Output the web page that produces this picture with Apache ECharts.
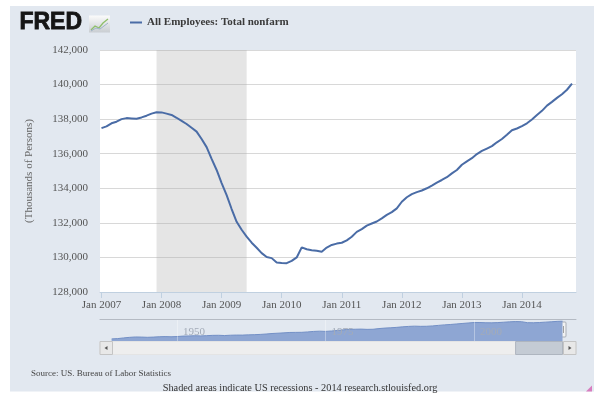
<!DOCTYPE html>
<html>
<head>
<meta charset="utf-8">
<script src="https://cdn.jsdelivr.net/npm/echarts@6/dist/echarts.min.js"></script>
<style>
html,body{margin:0;padding:0;background:#fff;}
#chart{width:600px;height:398px;}
</style>
</head>
<body>
<div id="chart"></div>
<script>
// ---- Data ----
const startYear = 2007; // month index 0 = Jan 2007
const seriesName = 'All Employees: Total nonfarm';
const employees = [
  137480,137580,137760,137850,138000,138060,138040,138020,138100,138200,138320,138400,
  138390,138320,138240,138080,137900,137720,137500,137280,136850,136380,135700,135060,
  134300,133600,132800,132060,131600,131200,130850,130560,130250,130020,129960,129700,
  129680,129670,129800,130000,130580,130470,130420,130380,130330,130570,130720,130800,
  130850,130990,131200,131480,131640,131840,131960,132080,132260,132460,132620,132840,
  133220,133480,133660,133780,133870,134000,134160,134330,134480,134640,134860,135060,
  135360,135560,135740,135980,136160,136300,136440,136660,136850,137100,137360,137460,
  137600,137760,137980,138240,138480,138780,139000,139230,139440,139700,140050
];
const xTickMonths = [0,12,24,36,48,60,72,84];
const xTickLabels = ['Jan 2007','Jan 2008','Jan 2009','Jan 2010','Jan 2011','Jan 2012','Jan 2013','Jan 2014'];
const recessions = [[11, 29]]; // Dec 2007 – Jun 2009 (month indices)
const yTicks = [128000,130000,132000,134000,136000,138000,140000,142000];

// navigator (full history, yearly)
const navYears = [1939,1940,1941,1942,1943,1944,1945,1946,1947,1948,1949,1950,1951,1952,1953,1954,1955,1956,1957,1958,1959,
  1960,1961,1962,1963,1964,1965,1966,1967,1968,1969,1970,1971,1972,1973,1974,1975,1976,1977,1978,1979,
  1980,1981,1982,1983,1984,1985,1986,1987,1988,1989,1990,1991,1992,1993,1994,1995,1996,1997,1998,1999,
  2000,2001,2002,2003,2004,2005,2006,2007,2008,2009,2010,2011,2012,2013,2014,2014.9];
const navValues = [30618,32376,36554,40125,42452,41883,40394,41652,43857,44866,43754,45197,47819,48793,50202,49001,50674,52408,52894,51363,53313,
  54234,54042,55547,56653,58283,60763,63901,65803,67897,70384,70880,71211,73675,76790,78265,76945,79382,82471,86697,89823,
  90406,91152,89544,90152,94408,97387,99344,101958,105210,107884,109403,108249,108601,110713,114163,117191,119608,122690,125865,128916,
  131720,131826,130341,129999,131435,133703,136086,137598,136790,130807,130313,131842,134102,136364,138940,140050];
const navLabelYears = [1950,1975,2000];
const navRange = [2007, 2014.9];

// ---- Build ----
const serif = "'Liberation Serif','Times New Roman',serif";
const mainData = employees.map((v,i)=>[i,v]);
const navData = navYears.map((y,i)=>[y, navValues[i]]);

const chart = echarts.init(document.getElementById('chart'), null, {renderer:'canvas'});
chart.setOption({
  animation:false,
  backgroundColor:'#ffffff',
  textStyle:{fontFamily:serif},
  title:[
    {text:'Source: US. Bureau of Labor Statistics', left:26, top:364,
     textStyle:{fontFamily:serif, fontSize:9, fontWeight:'normal', color:'#444'}},
    {text:'Shaded areas indicate US recessions - 2014 research.stlouisfed.org', left:'center', top:378,
     textStyle:{fontFamily:serif, fontSize:10.3, fontWeight:'normal', color:'#333'}}
  ],
  legend:{
    left:130, top:17, padding:0, icon:'rect', itemWidth:12, itemHeight:2,
    data:[seriesName],
    textStyle:{fontFamily:serif, fontSize:11, fontWeight:'bold', color:'#3a3a3a'}
  },
  grid:[
    {left:100, right:24, top:50, height:242, show:true, backgroundColor:'#ffffff', borderWidth:0},
    {left:100, right:24, top:319.5, height:22, show:false}
  ],
  xAxis:[
    {gridIndex:0, type:'value', min:-0.3, max:94.8,
     axisLine:{show:true, lineStyle:{color:'#C0D0E0'}},
     axisTick:{show:true, length:6, customValues:xTickMonths, lineStyle:{color:'#C0D0E0'}},
     axisLabel:{customValues:xTickMonths, margin:8, fontFamily:serif, fontSize:11, color:'#555',
       formatter:(v)=>{const k=xTickMonths.indexOf(Math.round(v)); return k>=0?xTickLabels[k]:'';}},
     splitLine:{show:false}},
    {gridIndex:1, type:'value', min:1937.04, max:2017.17, position:'top', z:5,
     axisLine:{show:true, lineStyle:{color:'#b4bac3'}},
     axisTick:{show:false},
     axisLabel:{customValues:navLabelYears, inside:true, margin:7, fontFamily:serif, fontSize:11, color:'#a3abb8',
       align:'left', padding:[0,0,0,6], formatter:(v)=>String(v)},
     splitLine:{show:false}}
  ],
  yAxis:[
    {gridIndex:0, type:'value', min:128000, max:142000, interval:2000,
     name:'(Thousands of Persons)', nameLocation:'middle', nameGap:65,
     nameTextStyle:{fontFamily:serif, fontSize:11, color:'#666'},
     axisLine:{show:false}, axisTick:{show:false},
     axisLabel:{margin:12, fontFamily:serif, fontSize:11, color:'#555',
       formatter:(v)=>v.toLocaleString('en-US')},
     splitLine:{show:true, lineStyle:{color:'#d8d8d8', width:1}}},
    {gridIndex:1, type:'value', min:14500, max:150500, show:false, splitLine:{show:false}}
  ],
  series:[
    {name:seriesName, type:'line', xAxisIndex:0, yAxisIndex:0, data:mainData,
     showSymbol:false, symbol:'none', smooth:false,
     lineStyle:{color:'#4a6ca6', width:2}, itemStyle:{color:'#4a6ca6'},
     markArea:{silent:true, itemStyle:{color:'rgba(170,170,170,0.3)'},
       data:recessions.map(r=>[{xAxis:r[0]},{xAxis:r[1]}])}},
    {name:'nav', type:'line', xAxisIndex:1, yAxisIndex:1, data:navData,
     showSymbol:false, symbol:'none',
     lineStyle:{color:'#7390c6', width:1}, areaStyle:{color:'#8ea6d3', opacity:1},
     markLine:{silent:true, symbol:'none', label:{show:false},
       lineStyle:{color:'rgba(255,255,255,0.35)', type:'solid', width:1},
       data:navLabelYears.map(y=>({xAxis:y}))}}
  ]
});

// decorations positioned from the scales
const xa = chart.convertToPixel({xAxisIndex:1}, navRange[0]);
const xb = chart.convertToPixel({xAxisIndex:1}, navRange[1]);
const navL = chart.convertToPixel({xAxisIndex:1}, 1937.04);
const navR = chart.convertToPixel({xAxisIndex:1}, 2017.17);
const sbTop = 341.5, sbH = 13;
function handle(x){
  return {type:'group', children:[
    {type:'rect', shape:{x:x-3.5, y:322, width:7, height:15, r:1}, style:{fill:'#f2f2f2', stroke:'#a9aeb6', lineWidth:1}},
    {type:'line', shape:{x1:x-1, y1:326, x2:x-1, y2:333}, style:{stroke:'#a0a0a0', lineWidth:1}},
    {type:'line', shape:{x1:x+1, y1:326, x2:x+1, y2:333}, style:{stroke:'#a0a0a0', lineWidth:1}}
  ]};
}
chart.setOption({graphic:{elements:[
  {type:'rect', z:-100, shape:{x:10, y:6, width:584, height:385.5}, style:{fill:'#e2e8f0'}},
  // FRED logo
  {type:'text', z:10, left:19, top:11, style:{text:'FRED', font:'bold 23px "Liberation Sans", Arial, sans-serif', fill:'#151515', stroke:'#151515', lineWidth:0.8}},
  {type:'group', z:10, children:[
    {type:'rect', shape:{x:89, y:15.5, width:21, height:17}, style:{fill:new echarts.graphic.LinearGradient(0,0,0,1,[{offset:0,color:'#fbfbfb'},{offset:1,color:'#c9cdd2'}])}},
    {type:'polyline', shape:{points:[[91,30],[95,26],[99,28],[103,23],[108,19]]}, style:{stroke:'#8fbf6a', lineWidth:1.3, fill:null}},
    {type:'polyline', shape:{points:[[91,31],[96,28],[100,29],[104,26],[108,23]]}, style:{stroke:'#9fb3c8', lineWidth:1, fill:null}}
  ]},
  // scrollbar track
  {type:'rect', z:5, shape:{x:navL, y:sbTop, width:navR-navL, height:sbH}, style:{fill:'#eeeeee', stroke:'#e4e4e4', lineWidth:1}},
  // scrollbar thumb
  {type:'rect', z:6, shape:{x:xa, y:sbTop, width:xb-xa, height:sbH}, style:{fill:'#c4cbd4', stroke:'#aeb5bf', lineWidth:1}},
  {type:'group', z:7, children:[-2,0,2].map(d=>({type:'line', shape:{x1:(xa+xb)/2+d, y1:sbTop+4, x2:(xa+xb)/2+d, y2:sbTop+9}, style:{stroke:'#666', lineWidth:0.8}}))},
  // buttons
  {type:'rect', z:8, shape:{x:navL, y:sbTop, width:12.5, height:sbH}, style:{fill:'#e8e8e8', stroke:'#c4c4c4', lineWidth:1}},
  {type:'polygon', z:9, shape:{points:[[navL+4.5,sbTop+6.5],[navL+7.5,sbTop+4.5],[navL+7.5,sbTop+8.5]]}, style:{fill:'#555'}},
  {type:'rect', z:8, shape:{x:navR-12.5, y:sbTop, width:12.5, height:sbH}, style:{fill:'#e8e8e8', stroke:'#c4c4c4', lineWidth:1}},
  {type:'polygon', z:9, shape:{points:[[navR-4.5,sbTop+6.5],[navR-7.5,sbTop+4.5],[navR-7.5,sbTop+8.5]]}, style:{fill:'#555'}},
  // navigator handles
  Object.assign(handle(xa), {z:10}),
  Object.assign(handle(xb), {z:10}),
  // resize grip
  {type:'polygon', z:10, shape:{points:[[586,391.5],[592,385.5],[592,391.5]]}, style:{fill:'#d77dbf'}}
]}});
</script>
</body>
</html>
